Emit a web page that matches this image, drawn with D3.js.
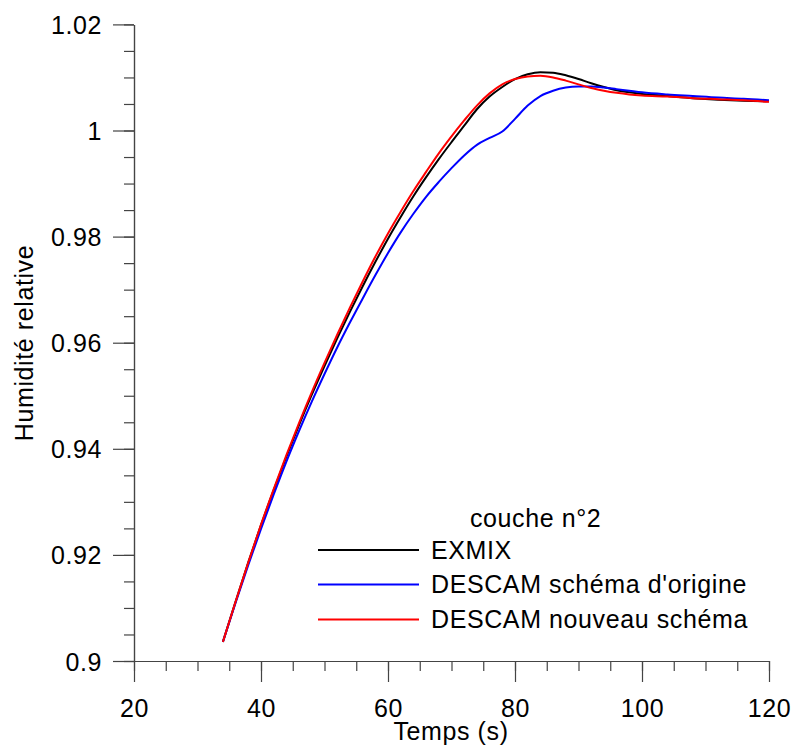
<!DOCTYPE html>
<html>
<head>
<meta charset="utf-8">
<script src="https://cdn.jsdelivr.net/npm/d3@7"></script>
<style>
  html, body { margin: 0; padding: 0; background: #fff; }
  svg { display: block; }
  text { font-family: "Liberation Sans", Arial, sans-serif; font-size: 25px; letter-spacing: 0.6px; fill: #000; }
</style>
</head>
<body>
<svg id="chart" width="795" height="751"></svg>
<script>
// ---- data ----
const timeEx = [34,36,38,40,42,44,46,48,50,52,54,56,58,60,62,64,66,68,70,72,74,76,78,80,82,84,86,88,90,92,94,96,98,100,104,108,112,116,120];
const exmix = [0.9036,0.9112,0.9186,0.9256,0.9322,0.9385,0.9445,0.9502,0.9556,0.9608,0.9658,0.9706,0.9752,0.9796,0.9837,0.9876,0.9912,0.9946,0.9978,1.0009,1.0040,1.0064,1.0082,1.0097,1.0106,1.0110,1.0109,1.0104,1.0097,1.0089,1.0082,1.0076,1.0072,1.0069,1.0065,1.0061,1.0058,1.0056,1.0055];

const timeOrig = [34,36,38,40,42,44,46,48,50,52,54,56,58,60,62,64,66,68,70,72,74,76,78,80,82,84,86,88,90,92,94,96,98,100,104,108,112,116,120];
const descamOrigine = [0.9036,0.9110,0.9181,0.9249,0.9314,0.9376,0.9434,0.9489,0.9541,0.9591,0.9638,0.9683,0.9727,0.9769,0.9808,0.9843,0.9875,0.9903,0.9929,0.9953,0.9973,0.9986,0.9998,1.0022,1.0047,1.0065,1.0075,1.0081,1.0083,1.0083,1.0081,1.0078,1.0075,1.0072,1.0068,1.0065,1.0062,1.0060,1.0057];

const timeNew = [34,36,38,40,42,44,46,48,50,52,54,56,58,60,62,64,66,68,70,72,74,76,78,80,82,84,86,88,90,92,94,96,98,100,104,108,112,116,120];
const descamNouveau = [0.9036,0.9112,0.9186,0.9257,0.9324,0.9388,0.9449,0.9507,0.9562,0.9615,0.9666,0.9715,0.9762,0.9806,0.9847,0.9886,0.9922,0.9957,0.9989,1.0019,1.0047,1.0070,1.0087,1.0097,1.0102,1.0103,1.0100,1.0094,1.0087,1.0080,1.0075,1.0071,1.0068,1.0066,1.0064,1.0061,1.0059,1.0057,1.0054];

const seriesNames = ["EXMIX", "DESCAM schéma d'origine", "DESCAM nouveau schéma"];
const seriesColors = ["#000000", "#0000ff", "#ff0000"];
const xTicks = [20,40,60,80,100,120];
const xMinorTicks = d3.range(20, 120.001, 5);
const yTicks = [0.9,0.92,0.94,0.96,0.98,1,1.02];
const yMinorTicks = d3.range(0, 25).map(i => 0.9 + i*0.005);
const legendTitle = "couche n°2";
const xTitle = "Temps (s)";
const yTitle = "Humidité relative";

// ---- chart ----
const svg = d3.select("#chart");
const x = d3.scaleLinear().domain([20,120]).range([134,769]);
const y = d3.scaleLinear().domain([0.9,1.02]).range([661,24.4]);
const axisColor = "#444";

function styleAxis(g){
  g.select(".domain").attr("stroke", axisColor).attr("stroke-width", 1.2);
  g.selectAll(".tick line").attr("stroke", axisColor).attr("stroke-width", 1.2);
}

// minor ticks
svg.append("g").attr("transform", `translate(0,${y(0.9)})`)
  .call(d3.axisBottom(x).tickValues(xMinorTicks).tickSize(10).tickSizeOuter(0).tickFormat(""))
  .call(styleAxis);
svg.append("g").attr("transform", `translate(${x(20)},0)`)
  .call(d3.axisLeft(y).tickValues(yMinorTicks).tickSize(10).tickSizeOuter(0).tickFormat(""))
  .call(styleAxis);

// major ticks
const gx = svg.append("g").attr("transform", `translate(0,${y(0.9)})`)
  .call(d3.axisBottom(x).tickValues(xTicks).tickSize(21).tickSizeOuter(0).tickPadding(0))
  .call(styleAxis);
gx.selectAll(".tick text").attr("y", 55.5).attr("dy", null)
  .style("font-size", "25px").style("font-family", '"Liberation Sans", Arial, sans-serif');

const gy = svg.append("g").attr("transform", `translate(${x(20)},0)`)
  .call(d3.axisLeft(y).tickValues(yTicks).tickSize(21).tickSizeOuter(0)
    .tickFormat(d => String(+d.toFixed(2))))
  .call(styleAxis);
gy.selectAll(".tick text").attr("x", -32).attr("dy", "0.36em")
  .style("font-size", "25px").style("font-family", '"Liberation Sans", Arial, sans-serif');
svg.selectAll(".tick text").attr("fill", "#000");

// axis titles
svg.append("text").attr("x", 451).attr("y", 740).attr("text-anchor", "middle").text(xTitle);
svg.append("text").attr("transform", "translate(33,343) rotate(-90)").attr("text-anchor", "middle").text(yTitle);

// curves
const line = d3.line().x(d => x(d[0])).y(d => y(d[1])).curve(d3.curveMonotoneX);
const series = [
  d3.zip(timeEx, exmix),
  d3.zip(timeOrig, descamOrigine),
  d3.zip(timeNew, descamNouveau)
];
[0,1,2].forEach(i => {
  svg.append("path").datum(series[i])
    .attr("fill", "none").attr("stroke", seriesColors[i]).attr("stroke-width", 2)
    .attr("d", line);
});

// legend
svg.append("text").attr("x", 470).attr("y", 527).text(legendTitle);
const legY = [558.5, 593, 628];
seriesNames.forEach((n, i) => {
  svg.append("line").attr("x1", 318).attr("x2", 419)
    .attr("y1", legY[i] - 8.5).attr("y2", legY[i] - 8.5)
    .attr("stroke", seriesColors[i]).attr("stroke-width", 2);
  svg.append("text").attr("x", 431).attr("y", legY[i]).text(n);
});
</script>
</body>
</html>
